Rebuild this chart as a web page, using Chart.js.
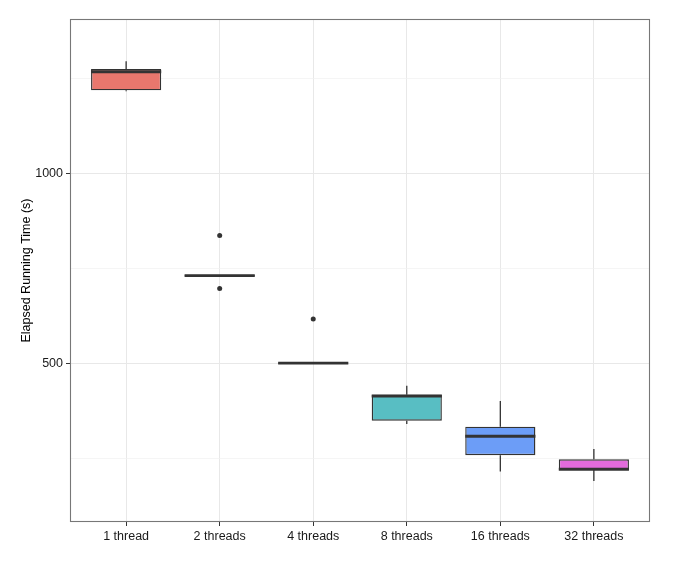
<!DOCTYPE html>
<html>
<head>
<meta charset="utf-8">
<script src="https://cdn.jsdelivr.net/npm/chart.js@4"></script>
<style>
  body { margin: 0; background: #fff; }
</style>
</head>
<body>
<canvas id="chart" width="680" height="563"></canvas>
<script>
// Box plot summaries (seconds)
const labels = ["1 thread", "2 threads", "4 threads", "8 threads", "16 threads", "32 threads"];
const whiskerLow = [1217, 729, 499, 340, 215, 190];
const q1 = [1219, 729, 499, 349, 258, 219];
const median = [1268, 731, 500.5, 414, 308, 221];
const q3 = [1275, 733, 502, 417, 333, 247];
const whiskerHigh = [1296, 733, 502, 441, 401, 274];
const outliers = [[], [837, 697], [617], [], [], []];
const yTicks = [250, 500, 750, 1000, 1250];

const boxColors = ["#E8776D", "#B39D2A", "#35B34A", "#58BEC3", "#6C9DF7", "#E36BDC"];
const lineColor = "#333333";

// whiskers under the boxes, medians and panel border on top
const boxPlotLines = {
  id: "boxPlotLines",
  beforeDatasetsDraw(chart) {
    const { ctx, scales: { x, y } } = chart;
    ctx.save();
    ctx.strokeStyle = lineColor;
    ctx.lineWidth = 1.3;
    labels.forEach((_, i) => {
      const px = x.getPixelForValue(i);
      ctx.beginPath();
      ctx.moveTo(px, y.getPixelForValue(whiskerHigh[i]));
      ctx.lineTo(px, y.getPixelForValue(q3[i]));
      ctx.moveTo(px, y.getPixelForValue(q1[i]));
      ctx.lineTo(px, y.getPixelForValue(whiskerLow[i]));
      ctx.stroke();
    });
    ctx.restore();
  },
  afterDatasetsDraw(chart) {
    const { ctx, chartArea, scales: { y } } = chart;
    const meta = chart.getDatasetMeta(0);
    ctx.save();
    ctx.strokeStyle = lineColor;
    ctx.lineWidth = 2.9;
    meta.data.forEach((bar, i) => {
      const half = bar.width / 2;
      const py = y.getPixelForValue(median[i]);
      ctx.beginPath();
      ctx.moveTo(bar.x - half, py);
      ctx.lineTo(bar.x + half, py);
      ctx.stroke();
    });
    // panel border
    ctx.strokeStyle = "#777777";
    ctx.lineWidth = 1.1;
    ctx.strokeRect(chartArea.left + 0.5, chartArea.top + 0.5,
      chartArea.right - chartArea.left - 1, chartArea.bottom - chartArea.top - 1);
    ctx.restore();
  }
};

const outlierPoints = [];
outliers.forEach((vals, i) => vals.forEach((v) => outlierPoints.push({ x: i, y: v })));

const ctx = document.getElementById("chart").getContext("2d");
new Chart(ctx, {
  type: "bar",
  data: {
    datasets: [
      {
        label: "IQR",
        data: labels.map((_, i) => ({ x: i, y: [q1[i], q3[i]] })),
        backgroundColor: boxColors,
        borderColor: lineColor,
        borderWidth: 1.4,
        borderSkipped: false,
        categoryPercentage: 1,
        barPercentage: 0.75,
        grouped: false,
      },
      {
        type: "scatter",
        label: "Outliers",
        data: outlierPoints,
        pointRadius: 2.5,
        pointBackgroundColor: lineColor,
        pointBorderWidth: 0,
      },
    ],
  },
  options: {
    responsive: false,
    animation: false,
    layout: { padding: { top: 19, right: 30, left: 0, bottom: 0 } },
    plugins: { legend: { display: false }, tooltip: { enabled: false } },
    scales: {
      x: {
        type: "linear",
        min: -0.6,
        max: 5.6,
        offset: false,
        afterFit: (scale) => { scale.height = 41; },
        afterBuildTicks: (scale) => { scale.ticks = labels.map((_, i) => ({ value: i })); },
        ticks: {
          autoSkip: false,
          maxRotation: 0,
          padding: 3,
          color: "#1A1A1A",
          font: { family: "Liberation Sans, Arial, sans-serif", size: 12.5 },
          callback: (v) => labels[v],
        },
        grid: { offset: false, color: "#E8E8E8", lineWidth: 1, tickColor: lineColor, tickLength: 4 },
        border: { display: false },
      },
      y: {
        min: 82,
        max: 1407,
        afterFit: (scale) => { scale.width = 70; },
        afterBuildTicks: (scale) => { scale.ticks = yTicks.map((v) => ({ value: v })); },
        ticks: {
          autoSkip: false,
          padding: 3,
          color: "#1A1A1A",
          font: { family: "Liberation Sans, Arial, sans-serif", size: 12.5 },
          callback: (v) => (v % 500 === 0 ? v : ""),
        },
        grid: {
          color: (c) => (c.tick && c.tick.value % 500 === 0 ? "#E8E8E8" : "#F0F0F0"),
          lineWidth: (c) => (c.tick && c.tick.value % 500 === 0 ? 1 : 0.7),
          tickColor: (c) => (c.tick && c.tick.value % 500 === 0 ? lineColor : "rgba(0,0,0,0)"),
          tickLength: 4,
        },
        border: { display: false },
        title: {
          display: true,
          text: "Elapsed Running Time (s)",
          color: "#000",
          padding: { top: 19, bottom: 0 },
          font: { family: "Liberation Sans, Arial, sans-serif", size: 12.5 },
        },
      },
    },
  },
  plugins: [boxPlotLines],
});
</script>
</body>
</html>
